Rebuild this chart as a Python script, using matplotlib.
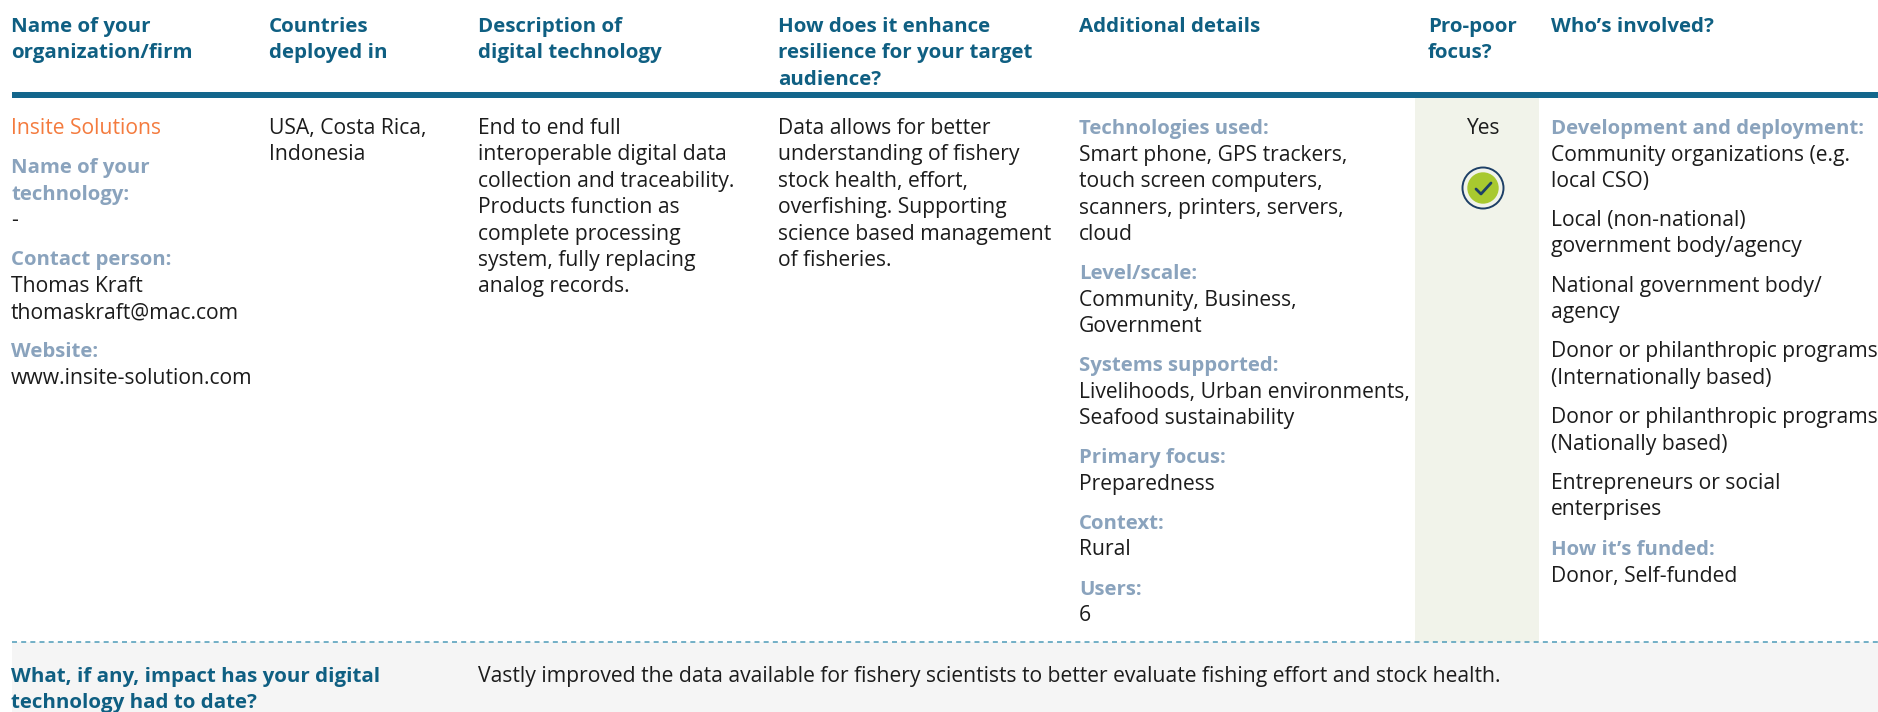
import matplotlib
matplotlib.use("Agg")
import matplotlib.pyplot as plt
from matplotlib.patches import Rectangle, Circle

# text of the table
headers = [
	["Name of your", "organization/firm"],
	["Countries", "deployed in"],
	["Description of", "digital technology"],
	["How does it enhance", "resilience for your target", "audience?"],
	["Additional details"],
	["Pro-poor", "focus?"],
	["Who\u2019s involved?"],
]
org_name = "Insite Solutions"
countries = ["USA, Costa Rica,", "Indonesia"]
description = ["End to end full", "interoperable digital data", "collection and traceability.",
	"Products function as", "complete processing", "system, fully replacing", "analog records."]
resilience = ["Data allows for better", "understanding of fishery", "stock health, effort,",
	"overfishing. Supporting", "science based management", "of fisheries."]
pro_poor = "Yes"
impact_question = ["What, if any, impact has your digital", "technology had to date?"]
impact_answer = "Vastly improved the data available for fishery scientists to better evaluate fishing effort and stock health."

# (kind, text, baseline) kind: s = label, b = body
col1 = [("s", "Name of your", 173), ("s", "technology:", 200), ("b", "-", 226),
	("s", "Contact person:", 265), ("b", "Thomas Kraft", 292), ("b", "thomaskraft@mac.com", 318),
	("s", "Website:", 357), ("b", "www.insite-solution.com", 384)]
col5 = [("s", "Technologies used:", 134), ("b", "Smart phone, GPS trackers,", 161),
	("b", "touch screen computers,", 187), ("b", "scanners, printers, servers,", 214), ("b", "cloud", 240),
	("s", "Level/scale:", 279), ("b", "Community, Business,", 306), ("b", "Government", 332),
	("s", "Systems supported:", 371), ("b", "Livelihoods, Urban environments,", 398), ("b", "Seafood sustainability", 424),
	("s", "Primary focus:", 463), ("b", "Preparedness", 490),
	("s", "Context:", 529), ("b", "Rural", 555),
	("s", "Users:", 595), ("b", "6", 621)]
col7 = [("s", "Development and deployment:", 134), ("b", "Community organizations (e.g.", 161), ("b", "local CSO)", 187),
	("b", "Local (non-national)", 226), ("b", "government body/agency", 252),
	("b", "National government body/", 292), ("b", "agency", 318),
	("b", "Donor or philanthropic programs", 357), ("b", "(Internationally based)", 384),
	("b", "Donor or philanthropic programs", 423), ("b", "(Nationally based)", 450),
	("b", "Entrepreneurs or social", 489), ("b", "enterprises", 515),
	("s", "How it\u2019s funded:", 555), ("b", "Donor, Self-funded", 582)]

col_x = [11, 269, 478, 778, 1079, 1428, 1551]
FONT = "Open Sans"
BODY = 15.2
HEAD = 14.75
LAB = 14.65
TEAL = "#0f5f82"
LABEL = "#8aa3bd"
INK = "#1c1c1c"

fig = plt.figure(figsize=(18.78, 7.12), dpi=100)
ax = fig.add_axes([0, 0, 1, 1])
ax.set_xlim(0, 1878)
ax.set_ylim(712, 0)
ax.axis("off")

def put(x, y, s, color=INK, bold=False, size=BODY, ha="left"):
	ax.text(x, y, s, color=color, fontsize=size, family=FONT, ha=ha, va="baseline",
		fontweight="bold" if bold else "normal")

# panels and rules
ax.add_patch(Rectangle((1415, 98), 124, 544, color="#f1f3ea", lw=0))
ax.add_patch(Rectangle((12, 642), 1866, 70, color="#f5f5f5", lw=0))
ax.add_patch(Rectangle((12, 92), 1866, 5.5, color="#13668c", lw=0))
ax.plot([12, 1878], [642, 642], color="#5ba3bd", lw=1.2, dashes=(3, 2.5))

# header row
for x, lines in zip(col_x, headers):
	for i, line in enumerate(lines):
		put(x, 32 + i * 26.3, line, TEAL, True, HEAD)

# first row
put(col_x[0], 134, org_name, "#f47b3e")
for x, lines in [(col_x[1], countries), (col_x[2], description), (col_x[3], resilience)]:
	for i, line in enumerate(lines):
		put(x, 134 + i * 26.4, line)
for x, rows in [(col_x[0], col1), (col_x[4], col5), (col_x[6], col7)]:
	for kind, s, y in rows:
		if kind == "s":
			put(x, y, s, LABEL, True, LAB)
		else:
			put(x, y, s)

# pro-poor marker
put(1483, 134, pro_poor, ha="center")
ax.add_patch(Circle((1483, 188), 20.5, fc="none", ec="#1d3f66", lw=1.4))
ax.add_patch(Circle((1483, 188), 15.7, fc="#a8c92f", ec="none"))
ax.plot([1476, 1481, 1491], [189, 194, 183], color="#1d3f66", lw=2, solid_capstyle="round")

# impact row
for i, line in enumerate(impact_question):
	put(col_x[0], 682 + i * 26, line, TEAL, True, HEAD)
put(col_x[2], 682, impact_answer)

fig.savefig("out.png", dpi=100)
